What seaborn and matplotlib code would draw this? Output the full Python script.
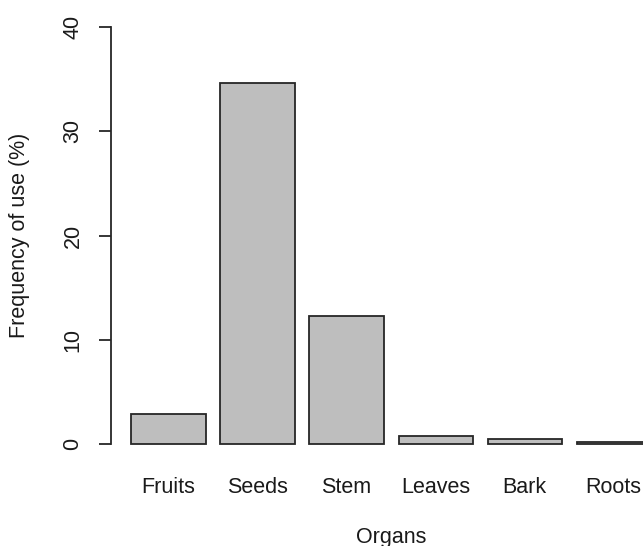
import matplotlib
matplotlib.use("Agg")
import matplotlib.pyplot as plt
import seaborn as sns
import pandas as pd

organs = ["Fruits", "Seeds", "Stem", "Leaves", "Bark", "Roots"]
frequency = [2.9, 34.6, 12.3, 0.8, 0.5, 0.25]
y_ticks = [0, 10, 20, 30, 40]

sns.set_style("white")
plt.rcParams["font.family"] = ["Liberation Sans", "DejaVu Sans"]

W, H = 643, 546
fig = plt.figure(figsize=(W / 100, H / 100), dpi=100)
# plot region in pixels: x 110.6..671.6, y 10.3..461 (extends past the right edge)
left, right, top, bottom = 110.6, 671.6, 10.3, 461.0
ax = fig.add_axes([left / W, (H - bottom) / H, (right - left) / W, (bottom - top) / H])

df = pd.DataFrame({"organ": organs, "freq": frequency})
sns.barplot(data=df, x="organ", y="freq", color="#BEBEBE", saturation=1,
            edgecolor="#262626", linewidth=1.3, width=1 / 1.2, ax=ax)

ax.set_xlim(-0.65, 5.65)
ax.set_ylim(-1.6, 41.6)
ax.set_yticks(y_ticks)
ax.set_yticklabels([str(t) for t in y_ticks])

for side in ["top", "right", "bottom"]:
    ax.spines[side].set_visible(False)
ax.spines["left"].set_bounds(0, 40)
ax.spines["left"].set_color("#262626")
ax.spines["left"].set_linewidth(1.3)

fs = 15.5
ax.tick_params(axis="x", bottom=False, length=0, pad=11.5, labelsize=fs, labelcolor="#1a1a1a")
ax.tick_params(axis="y", left=True, length=8.6, width=1.3, color="#262626", pad=11,
               labelsize=fs, labelcolor="#1a1a1a", labelrotation=90)
for lbl in ax.get_yticklabels():
    lbl.set_va("center")

ax.set_xlabel("Organs", fontsize=fs, color="#1a1a1a")
ax.set_ylabel("Frequency of use (%)", fontsize=fs, color="#1a1a1a")
ax.xaxis.label.set_va("center")
ax.yaxis.label.set_va("center")
ax.xaxis.set_label_coords(0.5, (bottom - 537) / (bottom - top))
ax.yaxis.set_label_coords((20 - left) / (right - left), 0.5)

fig.savefig("out.png", dpi=100, facecolor="white")
